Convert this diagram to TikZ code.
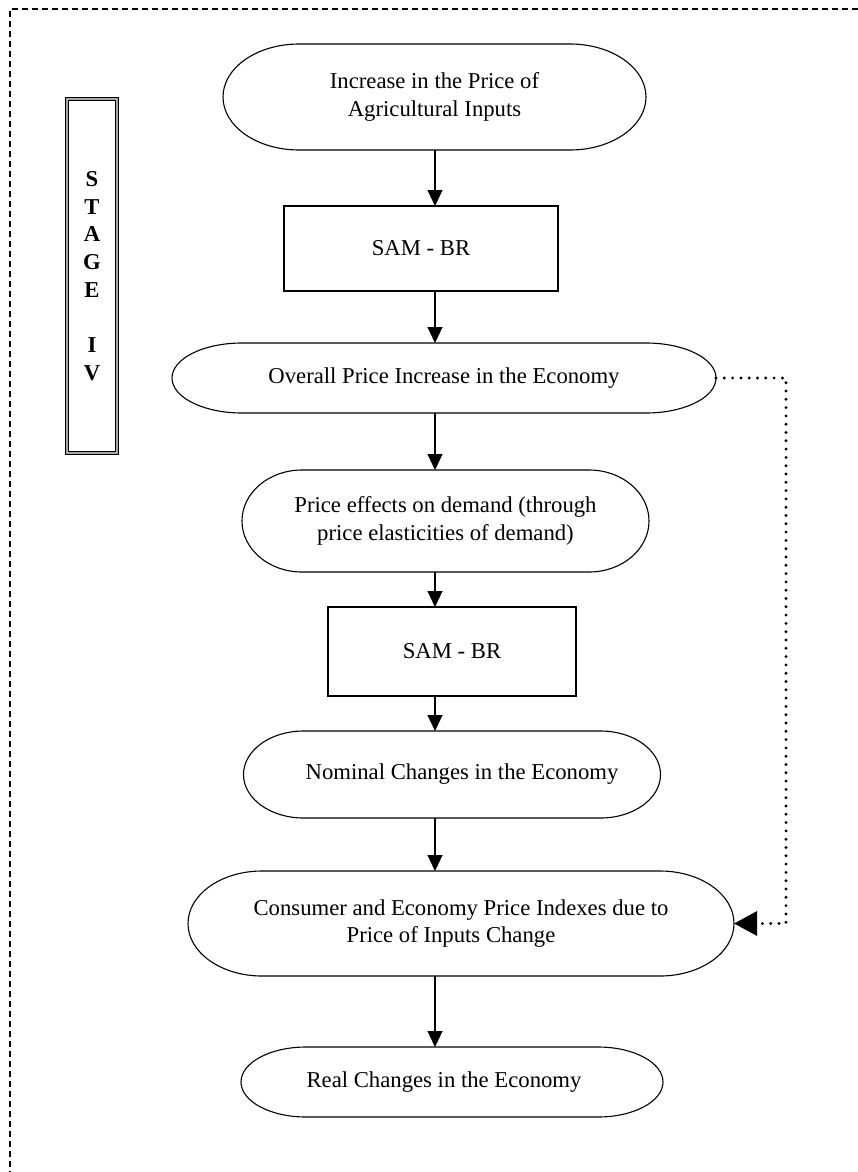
\documentclass[tikz,border=0pt]{standalone}
\usepackage{fontspec}
\setmainfont{Liberation Serif}
\usetikzlibrary{arrows.meta,calc}
% terminal box: (name)(x,y)(width:height:end radius){text}
\def\termbox(#1)(#2,#3)(#4:#5:#6)#7{%
  \node[termtext, minimum width=#4pt, minimum height=#5pt] (#1) at (#2,#3) {#7};
  \draw[line width=1.1pt] ([xshift=#6pt]#1.north west) -- ([xshift=-#6pt]#1.north east)
    arc[start angle=90, end angle=-90, x radius=#6pt, y radius=#5pt/2]
    -- ([xshift=#6pt]#1.south west)
    arc[start angle=270, end angle=90, x radius=#6pt, y radius=#5pt/2] -- cycle;}

\tikzset{
  every node/.style={font=\fontsize{22.7}{27.5}\selectfont},
  termtext/.style={draw=none, align=center, outer sep=0pt, inner sep=0pt},
  procbox/.style={draw, line width=1.1pt, align=center, outer sep=0pt, inner sep=0pt},
  flow/.style={line width=1.1pt, -{Triangle[length=16pt,width=15pt]}},
  feedback/.style={line width=3.2pt, line cap=round, dash pattern=on 0pt off 8.3pt,
    -{Triangle[length=23pt,width=24pt]}},
  stagebox/.style={draw, line width=1pt, double=black!35, double distance=2.2pt,
    align=center, inner sep=0pt, font=\fontsize{22.7}{27.7}\selectfont\bfseries},
  frame/.style={line width=1.3pt, dash pattern=on 6pt off 4pt}
}

\begin{document}
\begin{tikzpicture}[x=1pt, y=-1pt]
	\useasboundingbox (0,0) rectangle (858,1172);
	
	%%%%% frame %%%%%
	\draw[frame] (858,9) -- (10,9) -- (10,1172);
	
	\node[stagebox, minimum width=50pt, minimum height=354pt] (stage) at (92,276)
		{S\\T\\A\\G\\E\\[27.7pt]I\\V};
	
	%%%%% flow %%%%%
	\termbox(inc)(434.5,97)(423:106:76){Increase in the Price of\\Agricultural Inputs}
	\node[procbox, minimum width=274pt, minimum height=85pt] (sam1) at (421,248.5) {SAM - BR};
	\termbox(overall)(444,378)(544:70:70){Overall Price Increase in the Economy}
	\termbox(effects)(445.5,521)(407:102:60){Price effects on demand (through\\price elasticities of demand)}
	\node[procbox, minimum width=248pt, minimum height=89pt] (sam2) at (452,651.5) {SAM - BR};
	\termbox(nominal)(452,774.5)(417:87:60){\hspace*{20pt}Nominal Changes in the Economy}
	\termbox(consumer)(461,923.5)(546:105:74){Consumer and Economy Price Indexes due to\\Price of Inputs Change\hspace*{20pt}}
	\termbox(real)(452,1082)(422:70:65){Real Changes in the Economy\hspace*{16pt}}
	
	\coordinate (spine) at (435,0);
	\draw[flow] (inc.south -| spine) -- (sam1.north -| spine);
	\draw[flow] (sam1.south -| spine) -- (overall.north -| spine);
	\draw[flow] (overall.south -| spine) -- (effects.north -| spine);
	\draw[flow] (effects.south -| spine) -- (sam2.north -| spine);
	\draw[flow] (sam2.south -| spine) -- (nominal.north -| spine);
	\draw[flow] (nominal.south -| spine) -- (consumer.north -| spine);
	\draw[flow] (consumer.south -| spine) -- (real.north -| spine);
	
	\draw[feedback] (overall.east) -- ++(70,0) |- (consumer.east);
\end{tikzpicture}
\end{document}
